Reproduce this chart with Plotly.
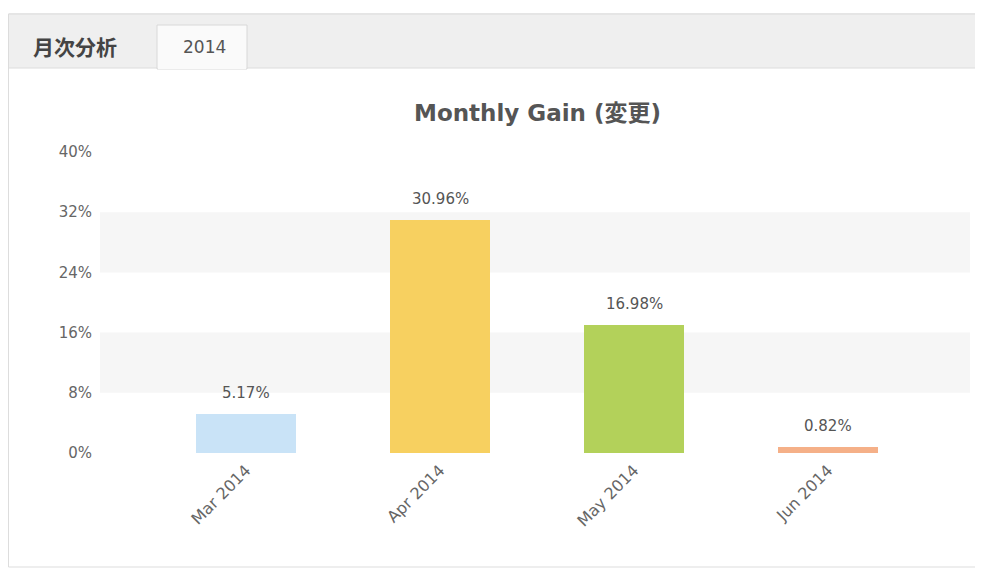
import plotly.graph_objects as go

months = ["Mar 2014", "Apr 2014", "May 2014", "Jun 2014"]
gains = [5.17, 30.96, 16.98, 0.82]
bar_colors = ["#c9e3f7", "#f7d060", "#b3d15a", "#f5b088"]
y_ticks = [0, 8, 16, 24, 32, 40]
tab_labels = ["月次分析", "2014"]
title_text = "Monthly Gain (変更)"

O = 8  # page body margin offset
W, H = 975, 560
L, T = 100 - O, 152 - O
R = W - (970 - O)
B = H - (453 - O)
pw, ph = W - L - R, H - T - B

def px(x):
    return (x - O - L) / pw

def py(y):
    return (H - B - (y - O)) / ph

fig = go.Figure()
fig.add_trace(go.Bar(
    x=list(range(len(months))), y=gains,
    marker=dict(color=bar_colors, line=dict(width=0)),
    width=0.515,
    hoverinfo="skip",
))

shapes = []
for lo, hi in [(8, 16), (24, 32)]:
    shapes.append(dict(type="rect", xref="paper", yref="y", x0=0, x1=1, y0=lo, y1=hi,
                       fillcolor="#f6f6f6", line=dict(width=0), layer="below"))
shapes.append(dict(type="rect", xref="paper", yref="paper", x0=px(8.5), x1=px(995), y0=py(567), y1=py(14),
                   fillcolor="rgba(0,0,0,0)", line=dict(color="#dddddd", width=1), layer="below"))
shapes.append(dict(type="rect", xref="paper", yref="paper", x0=px(8.5), x1=px(995), y0=py(68), y1=py(14),
                   fillcolor="#efefef", line=dict(color="#dcdcdc", width=1), layer="below"))
shapes.append(dict(type="rect", xref="paper", yref="paper", x0=px(157), x1=px(247), y0=py(69), y1=py(25),
                   fillcolor="#fafafa", line=dict(color="#d8d8d8", width=1), layer="below"))
shapes.append(dict(type="line", xref="paper", yref="paper", x0=px(158), x1=px(246), y0=py(68), y1=py(68),
                   line=dict(color="#fafafa", width=2)))

annotations = [
    dict(text="<b>" + tab_labels[0] + "</b>", xref="paper", yref="paper", x=px(31), y=py(46),
         xanchor="left", yanchor="middle", showarrow=False,
         font=dict(family="Noto Sans CJK JP", size=21, color="#444444")),
    dict(text=tab_labels[1], xref="paper", yref="paper", x=px(204), y=py(47),
         xanchor="center", yanchor="middle", showarrow=False,
         font=dict(family="DejaVu Sans", size=17, color="#555555")),
    dict(text="<b>" + title_text + "</b>", xref="paper", yref="paper", x=px(537), y=py(113),
         xanchor="center", yanchor="middle", showarrow=False,
         font=dict(family="DejaVu Sans, Noto Sans CJK JP", size=23, color="#555555")),
]
for i, g in enumerate(gains):
    annotations.append(dict(text=f"{g:.2f}%", x=i, y=g, xref="x", yref="y",
                            xanchor="center", yanchor="bottom", yshift=10, showarrow=False,
                            font=dict(family="DejaVu Sans", size=15, color="#555555")))

fig.update_layout(
    width=W, height=H,
    margin=dict(l=L, r=R, t=T, b=B),
    paper_bgcolor="white", plot_bgcolor="white",
    showlegend=False,
    shapes=shapes,
    annotations=annotations,
    bargap=0,
    xaxis=dict(
        tickmode="array", tickvals=list(range(len(months))), ticktext=months,
        range=[-0.753, 3.732], tickangle=-45,
        showgrid=False, zeroline=False, showline=False, ticks="",
        ticklabelstandoff=4,
        tickfont=dict(family="DejaVu Sans", size=16, color="#666666"),
        fixedrange=True,
    ),
    yaxis=dict(
        range=[0, 40], tickmode="array", tickvals=y_ticks,
        ticktext=[f"{v}%" for v in y_ticks],
        showgrid=False, zeroline=False, showline=False, ticks="",
        ticklabelstandoff=7,
        tickfont=dict(family="DejaVu Sans", size=15, color="#666666"),
        fixedrange=True,
    ),
)

fig.write_html("out.html")
